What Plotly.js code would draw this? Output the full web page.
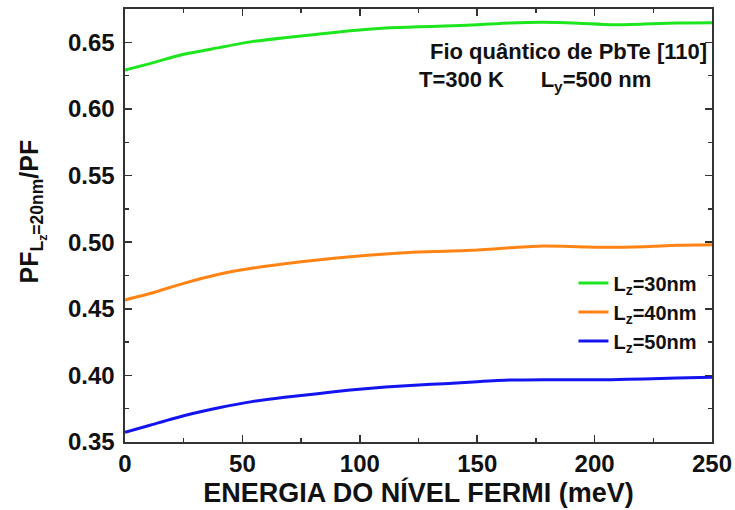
<!DOCTYPE html>
<html>
<head>
<meta charset="utf-8">
<script src="https://cdn.plot.ly/plotly-3.0.1.min.js"></script>
<style>html,body{margin:0;padding:0;background:#fff;}#plot{width:735px;height:510px;}</style>
</head>
<body>
<div id="plot"></div>
<script>
const energy = [0, 11, 25, 40, 54, 68, 82, 96, 111, 125, 136, 150, 164, 178, 193, 207, 221, 235, 250];
const pf30 = [0.6292,0.6342,0.6410,0.6460,0.6505,0.6535,0.6560,0.6587,0.6607,0.6617,0.6622,0.6632,0.6645,0.6650,0.6643,0.6632,0.6637,0.6645,0.6647];
const pf40 = [0.4566,0.4616,0.4691,0.4759,0.4804,0.4838,0.4866,0.4891,0.4911,0.4926,0.4931,0.4941,0.4958,0.4971,0.4966,0.4961,0.4966,0.4977,0.4981];
const pf50 = [0.3573,0.3628,0.3697,0.3757,0.3803,0.3836,0.3863,0.3890,0.3913,0.3928,0.3938,0.3953,0.3965,0.3968,0.3968,0.3968,0.3973,0.3980,0.3986];
const seriesNames = ['L<sub>z</sub>=30nm', 'L<sub>z</sub>=40nm', 'L<sub>z</sub>=50nm'];
const seriesColors = ['#1ee61e', '#ff8415', '#1414f0'];
const series = [pf30, pf40, pf50];

const font = {family: 'Liberation Sans, Arial, sans-serif', color: '#111', weight: 'bold'};

const traces = series.map((ys, i) => ({
  x: energy, y: ys, type: 'scatter', mode: 'lines',
  name: seriesNames[i],
  line: {color: seriesColors[i], width: 3, shape: 'spline', smoothing: 0.6}
}));

const axisCommon = {
  showline: true, linewidth: 1.6, linecolor: '#333', mirror: 'allticks',
  ticks: 'inside', ticklen: 7, tickwidth: 1.6, tickcolor: '#333',
  showgrid: false, zeroline: false,
  tickfont: Object.assign({}, font, {size: 24})
};

const layout = {
  width: 735, height: 510,
  margin: {l: 125, r: 23, t: 9, b: 68},
  paper_bgcolor: '#fff', plot_bgcolor: '#fff',
  showlegend: true,
  legend: {x: 0.764, y: 0.412, xanchor: 'left', yanchor: 'top',
           bgcolor: 'rgba(0,0,0,0)', font: Object.assign({}, font, {size: 20}),
           tracegroupgap: 0},
  xaxis: Object.assign({}, axisCommon, {
    range: [0, 250], tick0: 0, dtick: 50,
    minor: {ticks: 'inside', ticklen: 4, dtick: 25, tickwidth: 1.4, tickcolor: '#333'},
    title: {text: 'ENERGIA DO NÍVEL FERMI (meV)', font: Object.assign({}, font, {size: 27}), standoff: 2}
  }),
  yaxis: Object.assign({}, axisCommon, {
    range: [0.35, 0.675], tick0: 0.35, dtick: 0.05, tickformat: '.2f',
    ticklabelstandoff: 4,
    minor: {ticks: 'inside', ticklen: 4, dtick: 0.025, tickwidth: 1.4, tickcolor: '#333'},
    title: {text: '&nbsp;&nbsp;&nbsp;&nbsp;PF<sub>L<sub>z</sub>=20nm</sub>/PF', font: Object.assign({}, font, {size: 25}), standoff: 22}
  }),
  annotations: [
    {xref: 'paper', yref: 'paper', x: 0.995, y: 0.901, xanchor: 'right', yanchor: 'middle',
     text: 'Fio quântico de PbTe [110]', showarrow: false, font: Object.assign({}, font, {size: 22})},
    {xref: 'paper', yref: 'paper', x: 0.497, y: 0.834, xanchor: 'left', yanchor: 'middle',
     text: 'T=300 K&nbsp;&nbsp;&nbsp;&nbsp;&nbsp;&nbsp;L<sub>y</sub>=500 nm', showarrow: false, font: Object.assign({}, font, {size: 22})}
  ]
};

Plotly.newPlot('plot', traces, layout, {displayModeBar: false, staticPlot: true});
</script>
</body>
</html>
